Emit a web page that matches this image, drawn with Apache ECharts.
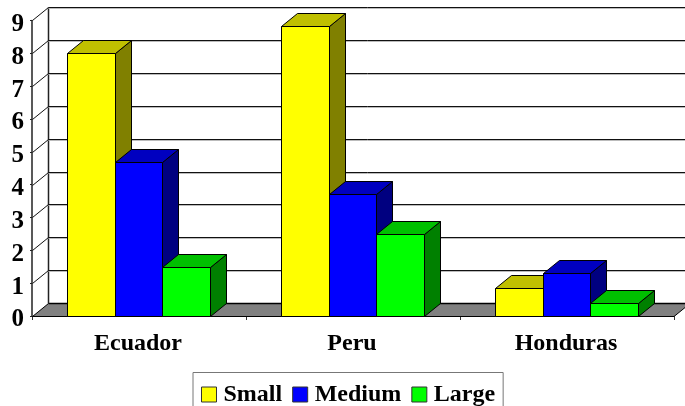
<!DOCTYPE html>
<html>
<head>
<meta charset="utf-8">
<style>html,body{margin:0;padding:0;background:#fff;overflow:hidden}#c{width:685px;height:406px}</style>
<script src="https://cdn.jsdelivr.net/npm/echarts@6/dist/echarts.min.js"></script>
</head>
<body>
<div id="c"></div>
<script>
const categories = ['Ecuador', 'Peru', 'Honduras'];
const small = [8.0, 8.82, 0.85];
const medium = [4.7, 3.7, 1.3];
const large = [1.5, 2.5, 0.4];
const yTicks = [0, 1, 2, 3, 4, 5, 6, 7, 8, 9];

const DX = 16, DY = -13;
const SERIF = '"Liberation Serif", "Times New Roman", serif';
const BAR_FRACTION = 47.6 / 214;
const px = v => Math.round(v) + 0.5;
const pxX = v => Math.round(v - 0.5) + 0.5;

function bar3d(seriesIdx, front, top, side) {
  return function (params, api) {
    const cat = api.value(0), val = api.value(1);
    const base = api.coord([cat, 0]);
    const head = api.coord([cat, val]);
    const band = api.size([1, 0])[0];
    const w = band * BAR_FRACTION;
    const x0 = pxX(base[0] + (seriesIdx - 1.5) * w);
    const x1 = pxX(base[0] + (seriesIdx - 0.5) * w);
    const yT = px(head[1]), yB = px(base[1]);
    const edge = { stroke: '#000', lineWidth: 1 };
    return {
      type: 'group',
      children: [
        { type: 'polygon', shape: { points: [[x1, yT], [x1 + DX, yT + DY], [x1 + DX, yB + DY], [x1, yB]] }, style: Object.assign({ fill: side }, edge) },
        { type: 'polygon', shape: { points: [[x0, yT], [x0 + DX, yT + DY], [x1 + DX, yT + DY], [x1, yT]] }, style: Object.assign({ fill: top }, edge) },
        { type: 'rect', shape: { x: x0, y: yT, width: x1 - x0, height: yB - yT }, style: Object.assign({ fill: front }, edge) }
      ]
    };
  };
}

function wall(params, api) {
  const v = api.value(0);
  const p = api.coord([0, v]);
  const cs = params.coordSys;
  const xL = px(cs.x), xR = cs.x + cs.width;
  const y = px(p[1]);
  const dark = { stroke: '#111', lineWidth: 1 };
  const children = [];
  if (v === 0) {
    const yF = px(cs.y + cs.height);
    children.push({ type: 'polygon', shape: { points: [[xL, yF], [xR, yF], [xR + DX, yF + DY], [xL + DX, yF + DY]] }, style: { fill: '#808080', stroke: '#000', lineWidth: 1 } });
    children.push({ type: 'line', shape: { x1: xL + DX, y1: yF + DY, x2: xR + DX, y2: yF + DY }, style: { stroke: '#000', lineWidth: 1.5 } });
    children.push({ type: 'line', shape: { x1: xL + DX, y1: yF + DY, x2: xL + DX, y2: px(cs.y) + DY }, style: { stroke: '#222', lineWidth: 1.5 } });
  } else {
    children.push({ type: 'line', shape: { x1: xL + DX, y1: y + DY + 1, x2: xR + DX, y2: y + DY + 1 }, style: { stroke: '#bbb', lineWidth: 1 } });
    children.push({ type: 'line', shape: { x1: xL + DX, y1: y + DY, x2: xR + DX, y2: y + DY }, style: dark });
    children.push({ type: 'line', shape: { x1: xL, y1: y, x2: xL + DX, y2: y + DY }, style: dark });
  }
  return { type: 'group', children };
}

const rows = vals => vals.map((v, i) => [i, v]);
const chart = echarts.init(document.getElementById('c'), null, { renderer: 'canvas' });
chart.setOption({
  animation: false,
  backgroundColor: '#fff',
  grid: { left: 32, right: 11, top: 20.4, height: 295.6 },
  xAxis: {
    type: 'category', data: categories, boundaryGap: true,
    axisLine: { lineStyle: { color: '#000', width: 1 } },
    axisTick: { show: true, length: 4, lineStyle: { color: '#333' } },
    axisLabel: { color: '#000', fontFamily: SERIF, fontWeight: 'bold', fontSize: 24, margin: 16, padding: [0, 2, 0, 0] }
  },
  yAxis: {
    type: 'value', min: 0, max: 9, interval: 1,
    axisLine: { show: true, lineStyle: { color: '#222', width: 1.5 } },
    axisTick: { show: true, length: 2, lineStyle: { color: '#222' } },
    splitLine: { show: false },
    axisLabel: { color: '#000', fontFamily: SERIF, fontWeight: 'bold', fontSize: 25, margin: 8, verticalAlign: 'top', lineHeight: 8 }
  },
  legend: {
    left: 193, top: 372.5, orient: 'horizontal',
    data: ['Small', 'Medium', 'Large'],
    padding: [10, 8, 11, 8], itemGap: 10, itemWidth: 15, itemHeight: 15,
    borderColor: '#777', borderWidth: 1, backgroundColor: '#fff',
    icon: 'rect',
    textStyle: { color: '#000', fontFamily: SERIF, fontWeight: 'bold', fontSize: 24, padding: [0, 0, 0, 2] },
    itemStyle: { borderColor: '#333', borderWidth: 1 }
  },
  series: [
    { type: 'custom', name: 'walls', silent: true, clip: false, data: yTicks.map(v => [v]), encode: { y: 0 }, renderItem: wall, z: 1 },
    { type: 'custom', name: 'Small', clip: false, data: rows(small), encode: { x: 0, y: 1 }, itemStyle: { color: '#ffff00' }, renderItem: bar3d(0, '#ffff00', '#c0c000', '#808000'), z: 2 },
    { type: 'custom', name: 'Medium', clip: false, data: rows(medium), encode: { x: 0, y: 1 }, itemStyle: { color: '#0000ff' }, renderItem: bar3d(1, '#0000ff', '#0000c0', '#000080'), z: 3 },
    { type: 'custom', name: 'Large', clip: false, data: rows(large), encode: { x: 0, y: 1 }, itemStyle: { color: '#00ff00' }, renderItem: bar3d(2, '#00ff00', '#00c000', '#008000'), z: 4 }
  ]
});
</script>
</body>
</html>
